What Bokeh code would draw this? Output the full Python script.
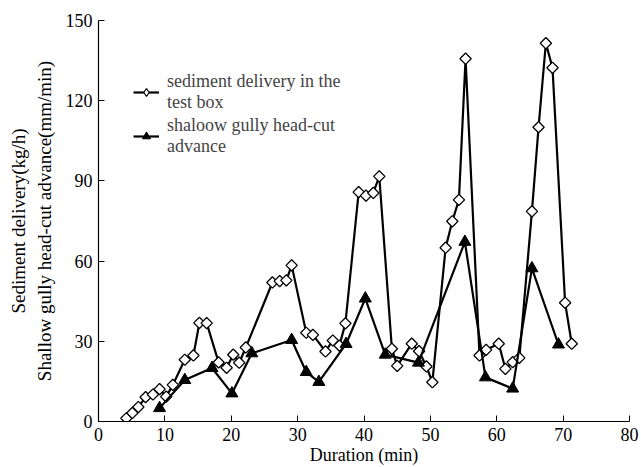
import numpy as np
from bokeh.plotting import figure
from bokeh.models import Range1d, FixedTicker, Legend, LegendItem
from bokeh.embed import file_html
from bokeh.resources import INLINE

# sediment delivery in the test box (kg/h)
sed_t = [4.2, 5.1, 6.0, 7.1, 8.2, 9.2, 10.2, 11.2, 13.0, 14.3, 15.2, 16.3, 18.1, 19.3,
         20.3, 21.2, 22.2, 26.2, 27.3, 28.3, 29.1, 31.3, 32.3, 34.2, 35.3, 36.3, 37.2,
         39.2, 40.3, 41.4, 42.3, 44.2, 45.0, 47.2, 48.3, 49.4, 50.3, 52.3, 53.3, 54.3,
         55.3, 57.4, 58.4, 60.3, 61.3, 62.4, 63.4, 65.3, 66.3, 67.4, 68.4, 70.3, 71.3]
sed_v = [1.2, 3.2, 5.4, 9.1, 10.1, 12.1, 9.3, 13.7, 23.1, 24.7, 36.9, 36.8, 22.1, 20.1,
         25.0, 22.0, 27.7, 52.0, 52.5, 52.8, 58.4, 33.2, 32.4, 26.2, 30.3, 28.4, 36.7,
         85.8, 84.5, 85.5, 91.7, 27.2, 20.8, 29.1, 26.3, 20.6, 14.7, 65.0, 74.9, 82.9,
         135.7, 24.7, 26.8, 29.1, 19.7, 22.2, 23.8, 78.6, 110.1, 141.5, 132.3, 44.4, 29.1]

# shallow gully head-cut advance (mm/min)
cut_t = [9.2, 13.0, 17.1, 20.1, 23.1, 29.1, 31.3, 33.2, 37.3, 40.2, 43.2, 48.2, 55.2,
         58.3, 62.4, 65.3, 69.3]
cut_v = [5.0, 15.5, 20.0, 10.5, 25.5, 30.5, 18.5, 14.8, 29.0, 46.0, 25.0, 22.0, 67.2,
         16.5, 12.3, 57.3, 28.8]

x_ticks = [0, 10, 20, 30, 40, 50, 60, 70, 80]
y_ticks = [0, 30, 60, 90, 120, 150]

FONT = "Liberation Serif"

p = figure(width=641, height=467, output_backend="svg", toolbar_location=None,
           x_range=Range1d(0, 80), y_range=Range1d(0, 150),
           min_border_left=98, min_border_right=12, min_border_top=20, min_border_bottom=46)

p.outline_line_color = None
p.xgrid.visible = False
p.ygrid.visible = False
p.background_fill_color = "white"

for ax in (p.xaxis[0], p.yaxis[0]):
    ax.axis_line_color = "black"
    ax.axis_line_width = 1.2
    ax.major_tick_line_color = "black"
    ax.major_tick_in = 6
    ax.major_tick_out = 0
    ax.minor_tick_line_color = None
    ax.major_label_text_font = FONT
    ax.major_label_text_font_size = "18px"
    ax.major_label_text_color = "black"
    ax.axis_label_text_font = FONT
    ax.axis_label_text_font_size = "18px"
    ax.axis_label_text_font_style = "normal"
    ax.axis_label_text_color = "black"

p.xaxis[0].ticker = FixedTicker(ticks=x_ticks)
p.yaxis[0].ticker = FixedTicker(ticks=y_ticks)
p.xaxis[0].axis_label = "Duration (min)"
p.xaxis[0].major_label_standoff = 6
p.xaxis[0].axis_label_standoff = 1
p.yaxis[0].axis_label = "Sediment delivery(kg/h)\nShallow gully head-cut advance(mm/min)"
p.yaxis[0].axis_label_text_font_size = "19px"
p.yaxis[0].major_label_standoff = 6
p.yaxis[0].axis_label_standoff = 8

l1 = p.line(sed_t, sed_v, line_color="black", line_width=2.2)
m1 = p.scatter(sed_t, sed_v, marker="square", angle=np.pi / 4, size=8,
               fill_color="white", line_color="black", line_width=1.3)
l2 = p.line(cut_t, cut_v, line_color="black", line_width=2.2)
m2 = p.scatter(cut_t, cut_v, marker="triangle", size=12,
               fill_color="black", line_color="black", line_width=1)

# non-drawing proxy so the legend sample shows a diamond (legend ignores marker angle)
proxy = p.scatter([float("nan")], [float("nan")], marker="diamond", size=11,
                  fill_color="white", line_color="black", line_width=1.2)

legend = Legend(items=[
    LegendItem(label="sediment delivery in the\ntest box", renderers=[l1, proxy]),
    LegendItem(label="shaloow gully head-cut\nadvance", renderers=[l2, m2]),
], location=(35, 264))
legend.border_line_color = None
legend.background_fill_alpha = 0
legend.padding = 0
legend.margin = 0
legend.spacing = 2
legend.glyph_width = 26
legend.label_standoff = 8
legend.label_text_font = FONT
legend.label_text_font_size = "18px"
legend.label_text_line_height = 1.5
p.add_layout(legend)

open("out.html", "w").write(file_html(p, INLINE))
